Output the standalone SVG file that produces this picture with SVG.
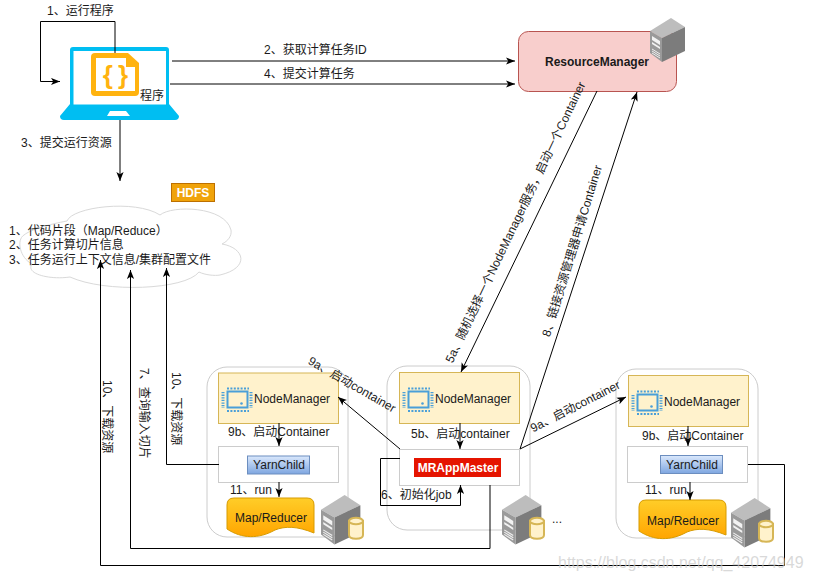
<svg xmlns="http://www.w3.org/2000/svg" width="813" height="580" viewBox="0 0 813 580">
<style>
text{font-family:"Liberation Sans","Noto Sans CJK SC",sans-serif;font-size:12px;fill:#1a1a1a}
.m{text-anchor:middle}
.wire{fill:none;stroke:#000;stroke-width:1;marker-end:url(#head)}
.group{fill:#fff;stroke:#ccc;stroke-width:1}
.nm{fill:#fff2cc;stroke:#d6b656;stroke-width:1}
.slot{fill:#fff;stroke:#ccc;stroke-width:1}
.yc{fill:url(#blue);stroke:#6c8ebf;stroke-width:1}
.doc{fill:url(#amber);stroke:#d79b00;stroke-width:1}
</style>
<defs>
<marker id="head" viewBox="0 0 10 8" refX="10" refY="4" markerWidth="9" markerHeight="8" markerUnits="userSpaceOnUse" orient="auto">
<path d="M0 0L10 4L0 8L2.500 4Z" fill="#000"/>
</marker>
<linearGradient id="blue" x1="0" y1="0" x2="0" y2="1"><stop offset="0" stop-color="#dae8fc"/><stop offset="1" stop-color="#7ea6e0"/></linearGradient>
<linearGradient id="amber" x1="0" y1="0" x2="0" y2="1"><stop offset="0" stop-color="#ffcd28"/><stop offset="1" stop-color="#ffa500"/></linearGradient>
<g id="srv">
<path d="M21 0L35 9L12 20L0 13Z" fill="#bdbdbd"/>
<path d="M35 9V33L12 44V20Z" fill="#7c7c7c"/>
<path d="M0 13L12 20V44L0 35Z" fill="#9a9a9a"/>
<path d="M2 18L10 23V27L2 22ZM2 24L10 29V31L2 26Z" fill="#f2f2f2"/>
<path d="M2 31L10 36M2 33L10 38M2 35L10 40" stroke="#eee" stroke-width="1" fill="none"/>
</g>
<g id="can">
<path d="M1 4V18C1 23 15 23 15 18V4Z" fill="#fff2cc" stroke="#d6b656" stroke-width="2"/>
<ellipse cx="8" cy="4" rx="7" ry="3.200" fill="#fff2cc" stroke="#d6b656" stroke-width="2"/>
</g>
<g id="chip" fill="none" stroke="#4a9fd8">
<rect x="5.500" y="4.500" width="20" height="16" stroke-width="2"/>
<path d="M5 1.500H27M5 24H27" stroke-width="2" stroke-dasharray="2 1.400"/>
<path d="M1 5V21M29 5V21" stroke-width="3" stroke-dasharray="1.300 1.300"/>
<circle cx="19.500" cy="16.500" r="1.300" fill="#4a9fd8" stroke="none"/>
</g>
<path id="mapdoc" d="M7 0H80Q87 0 87 7V35C70 28 58 28 48 32C32 41 15 41 0 31V7Q0 0 7 0Z"/>
</defs>
<rect width="813" height="580" fill="#fff"/>

<!-- client laptop -->
<g id="client">
<path d="M73 47H166Q169 47 169 50V104L179 116Q179 120 175 120H64Q60 120 60 116L70 104V50Q70 47 73 47Z" fill="#00bef2"/>
<rect x="73.500" y="51" width="92.500" height="53.500" fill="#fff"/>
<path d="M110 111H126L130 116H107Z" fill="#fff"/>
<path d="M95 53H128L139 63V92Q139 96 135 96H95Q91 96 91 92V57Q91 53 95 53Z" fill="#ffb30f"/>
<path d="M96 58H126V67H135V91H96Z" fill="#fff"/>
<text x="115" y="84" class="m" style="font-size:26px;font-weight:bold;fill:#ffb30f;letter-spacing:-1px">{ }</text>
<text x="140" y="100">程序</text>
</g>

<!-- resource manager -->
<g id="resource-manager">
<rect x="518.500" y="31.500" width="158" height="60" rx="10" fill="#f8cecc" stroke="#b85450"/>
<text x="597" y="66" class="m" style="font-weight:bold">ResourceManager</text>
<use href="#srv" x="650" y="18"/>
</g>

<!-- hdfs store -->
<g id="hdfs-label">
<rect x="171.500" y="183.500" width="43" height="18" fill="#f0a30a" stroke="#bd7000"/>
<text x="193" y="197" class="m" style="fill:#fff;font-weight:bold">HDFS</text>
</g>
<g id="hdfs">
<path d="M67 221C72 207 135 199 160 215C172 205 225 206 231 230C232 236 228 241 222 244C245 248 250 268 220 275C215 276 205 275 199 272C185 290 105 293 70 277C50 280 25 274 32 264C20 258 16 240 24 235C30 230 50 224 67 221Z" fill="#fff" stroke="#d9d9d9"/>
<text x="9" y="235">1、代码片段（Map/Reduce）</text>
<text x="9" y="249">2、任务计算切片信息</text>
<text x="9" y="264">3、任务运行上下文信息/集群配置文件</text>
</g>

<!-- worker host, left -->
<g id="host-left">
<rect class="group" x="207" y="367" width="141" height="170" rx="20"/>
<rect class="nm" x="218.500" y="373" width="120" height="50.500"/>
<use href="#chip" x="222" y="387"/>
<text x="254" y="403">NodeManager</text>
<rect class="slot" x="218.500" y="446.500" width="120" height="36"/>
<rect class="yc" x="247.500" y="456" width="62" height="18"/>
<text x="279" y="469" class="m">YarnChild</text>
<use href="#mapdoc" x="227" y="498" class="doc"/>
<text x="271" y="522" class="m">Map/Reducer</text>
<use href="#srv" transform="translate(321 495) scale(1.125)"/>
<use href="#can" x="348" y="517"/>
</g>

<!-- worker host, centre -->
<g id="host-centre">
<rect class="group" x="387" y="366" width="143" height="164" rx="20"/>
<rect class="nm" x="399.500" y="372.500" width="120" height="51"/>
<use href="#chip" x="403" y="387"/>
<text x="435" y="403">NodeManager</text>
<rect class="slot" x="399.500" y="449.500" width="120" height="36"/>
<rect x="414" y="458" width="87" height="19" fill="#e51400"/>
<text x="458" y="472" class="m" style="fill:#fff;font-weight:bold">MRAppMaster</text>
<use href="#srv" transform="translate(502 495) scale(1.125)"/>
<use href="#can" x="529" y="517"/>
<text x="552" y="523">...</text>
</g>

<!-- worker host, right -->
<g id="host-right">
<rect class="group" x="616" y="369" width="142" height="169" rx="20"/>
<rect class="nm" x="628.500" y="375.500" width="120" height="51"/>
<use href="#chip" x="632" y="390"/>
<text x="664" y="406">NodeManager</text>
<rect class="slot" x="627.500" y="446.500" width="120" height="36"/>
<rect class="yc" x="660.500" y="455.500" width="62" height="18"/>
<text x="692" y="469" class="m">YarnChild</text>
<use href="#mapdoc" x="639" y="500" class="doc"/>
<text x="683" y="525" class="m">Map/Reducer</text>
<use href="#srv" transform="translate(731 498) scale(1.125)"/>
<use href="#can" x="758" y="520"/>
</g>

<!-- connectors and their labels -->
<g id="connectors">
<path class="wire" d="M115 53V21.500H40.500V81.500H60"/>
<path class="wire" d="M172 61H515"/>
<path class="wire" d="M170 84H515"/>
<path class="wire" d="M120 120V181"/>
<path class="wire" d="M597 91L461 372"/>
<path class="wire" d="M520 449L637 92"/>
<path class="wire" d="M400 449L338 397"/>
<path class="wire" d="M520 449L626 397"/>
<path class="wire" d="M460 423V449"/>
<path class="wire" d="M400 458.500H380.500V505.500H460.500V485"/>
<path class="wire" d="M279 423V446"/>
<path class="wire" d="M279 482V497"/>
<path class="wire" d="M688 426V446"/>
<path class="wire" d="M690 482V500"/>
<path class="wire" d="M219 464.500H166.500V268"/>
<path class="wire" d="M490 485V548.500H130.500V270"/>
<path class="wire" d="M748 464.500H784.500V565.500H100.500V260"/>
<text x="47" y="15">1、运行程序</text>
<text x="264" y="54">2、获取计算任务ID</text>
<text x="264" y="78">4、提交计算任务</text>
<text x="21" y="147">3、提交运行资源</text>
<text class="m" transform="translate(519 224) rotate(-64.500)">5a、随机选择一个NodeManager服务，启动一个Container</text>
<text class="m" transform="translate(576 252) rotate(-73)">8、链接资源管理器申请Container</text>
<text class="m" transform="translate(350 388) rotate(30)">9a、启动container</text>
<text class="m" transform="translate(577 410) rotate(-27)">9a、启动container</text>
<text x="228" y="436">9b、启动Container</text>
<text x="411" y="438">5b、启动container</text>
<text x="642" y="440">9b、启动Container</text>
<text x="230" y="494">11、run</text>
<text x="645" y="494">11、run</text>
<text x="381" y="499">6、初始化job</text>
<text transform="translate(172 372) rotate(90)">10、下载资源</text>
<text transform="translate(140 368) rotate(90)">7、查询输入切片</text>
<text transform="translate(103 380) rotate(90)">10、下载资源</text>
</g>

<text x="558" y="568" style="font-size:16px;fill:#c8c8c8;fill-opacity:.7">https://blog.csdn.net/qq_42074949</text>
</svg>
